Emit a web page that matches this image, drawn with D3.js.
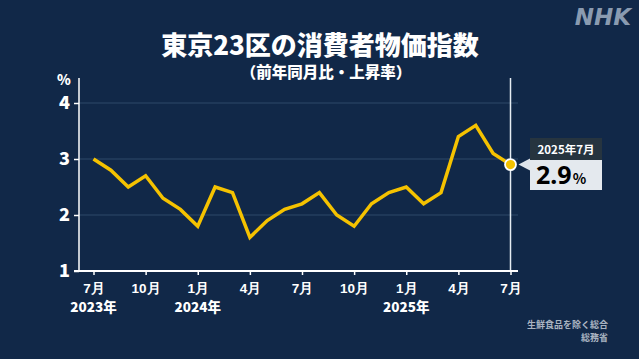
<!DOCTYPE html>
<html><head><meta charset="utf-8">
<script src="https://cdn.jsdelivr.net/npm/d3@7"></script>
<style>
html,body{margin:0;padding:0;background:#112848;}
svg{display:block;font-family:"Noto Sans CJK JP","Noto Sans",sans-serif;}
</style></head>
<body>
<svg id="c" width="639" height="359"></svg>
<script>
const months = ["2023-07","2023-08","2023-09","2023-10","2023-11","2023-12","2024-01","2024-02","2024-03","2024-04","2024-05","2024-06","2024-07","2024-08","2024-09","2024-10","2024-11","2024-12","2025-01","2025-02","2025-03","2025-04","2025-05","2025-06","2025-07"];
const values = [3.0,2.8,2.5,2.7,2.3,2.1,1.8,2.5,2.4,1.6,1.9,2.1,2.2,2.4,2.0,1.8,2.2,2.4,2.5,2.2,2.4,3.4,3.6,3.1,2.9];
const yTicks = [1,2,3,4];
const xTickLabels = ["7月","10月","1月","4月","7月","10月","1月","4月","7月"];
const yearLabels = {0:"2023年",2:"2024年",6:"2025年"};
const title = "東京23区の消費者物価指数";
const subtitle = "（前年同月比・上昇率）";
const sourceLines = ["生鮮食品を除く総合","総務省"];

const svg = d3.select("#c");
const x = d3.scaleLinear().domain([0, months.length-1]).range([93.5, 510.5]);
const y = d3.scaleLinear().domain([1,4]).range([271, 103]);

// title
svg.append("text").attr("x",320).attr("y",55).attr("text-anchor","middle")
  .attr("fill","#fff").attr("font-size",26).attr("font-weight",900).text(title);
svg.append("text").attr("x",326).attr("y",78).attr("text-anchor","middle")
  .attr("fill","#fff").attr("font-size",15.5).attr("font-weight",900).text(subtitle);
// NHK logo
svg.append("text").attr("x",631).attr("y",25).attr("text-anchor","end")
  .attr("fill","#8a9bb0").attr("font-size",23).attr("font-weight",900)
  .attr("font-style","italic").attr("font-family","'DejaVu Sans','Liberation Sans',sans-serif")
  .text("NHK");

// grid
svg.append("g").selectAll("line").data(yTicks.filter(d=>d>1)).join("line")
  .attr("x1",79).attr("x2",518).attr("y1",d=>y(d)).attr("y2",d=>y(d))
  .attr("stroke","#2f4868").attr("stroke-width",1.2);

// y axis
const yAxis = svg.append("g").attr("transform","translate(79,0)")
  .call(d3.axisLeft(y).tickValues(yTicks).tickSize(5).tickFormat(d3.format("d")));
yAxis.select(".domain").remove();
yAxis.selectAll(".tick line").attr("stroke","#fff").attr("stroke-width",1.5);
yAxis.selectAll(".tick text").attr("fill","#fff").attr("font-size",18).attr("font-weight",900)
  .attr("x",-9).attr("font-family","'Noto Sans CJK JP','Noto Sans',sans-serif");
svg.append("line").attr("x1",79).attr("x2",79).attr("y1",78).attr("y2",271)
  .attr("stroke","#fff").attr("stroke-width",1.5);
svg.append("text").attr("x",64).attr("y",85).attr("text-anchor","middle")
  .attr("fill","#fff").attr("font-size",14).attr("font-weight",900).text("%");

// right vertical line
svg.append("line").attr("x1",x(months.length-1)).attr("x2",x(months.length-1)).attr("y1",78).attr("y2",271)
  .attr("stroke","#e6ecf2").attr("stroke-width",1.5);

// x axis
const tickIdx = d3.range(0, months.length, 3);
const xAxis = svg.append("g").attr("transform","translate(0,271)")
  .call(d3.axisBottom(x).tickValues(tickIdx).tickSize(5).tickSizeOuter(0)
    .tickFormat((d,i)=>xTickLabels[i]));
xAxis.select(".domain").remove();
xAxis.selectAll(".tick line").attr("stroke","#fff").attr("stroke-width",1.5).attr("y1",0).attr("y2",4);
xAxis.selectAll(".tick text").attr("fill","#fff").attr("font-size",13.5).attr("font-weight",900).attr("y",12);
svg.append("line").attr("x1",74).attr("x2",518).attr("y1",271).attr("y2",271)
  .attr("stroke","#fff").attr("stroke-width",1.8);
svg.append("g").selectAll("text").data(Object.entries(yearLabels)).join("text")
  .attr("x",d=>x(tickIdx[+d[0]])).attr("y",312).attr("text-anchor","middle")
  .attr("fill","#fff").attr("font-size",13.5).attr("font-weight",900).text(d=>d[1]);

// line
const line = d3.line().x((d,i)=>x(i)).y(d=>y(d));
svg.append("path").datum(values).attr("d",line).attr("fill","none")
  .attr("stroke","#f5c200").attr("stroke-width",3.5).attr("stroke-linejoin","miter");

// last point
const li = values.length-1;
svg.append("circle").attr("cx",x(li)).attr("cy",y(values[li])).attr("r",5.5)
  .attr("fill","#f5c200").attr("stroke","#fff").attr("stroke-width",1.8);

// tooltip
const tx = 530, ty = 138, tw = 72, th1 = 22, th2 = 30;
const py = y(values[li]);
svg.append("path").attr("d",`M${x(li)+8},${py} L${tx},${py-6} L${tx},${py+6} Z`).attr("fill","#dde3ea");
svg.append("rect").attr("x",tx).attr("y",ty).attr("width",tw).attr("height",th1).attr("fill","#26343f");
svg.append("rect").attr("x",tx).attr("y",ty+th1).attr("width",tw).attr("height",th2).attr("fill","#e4e9ee");
svg.append("text").attr("x",tx+tw/2).attr("y",ty+16).attr("text-anchor","middle")
  .attr("fill","#fff").attr("font-size",11.5).attr("font-weight",700).text(months[li].slice(0,4)+"年"+(+months[li].slice(5))+"月");
const vt = svg.append("text").attr("x",tx+6).attr("y",ty+th1+24).attr("fill","#000").attr("font-weight",700);
vt.append("tspan").attr("font-size",25).attr("font-family","'Noto Sans',sans-serif").text(d3.format(".1f")(values[li]));
vt.append("tspan").attr("font-size",14).attr("dx",1).text("%");

// source
svg.append("g").selectAll("text").data(sourceLines).join("text")
  .attr("x",608).attr("y",(d,i)=>328+i*13).attr("text-anchor","end")
  .attr("fill","#aab4c2").attr("font-size",9).attr("font-weight",700).text(d=>d);
</script>
</body></html>
